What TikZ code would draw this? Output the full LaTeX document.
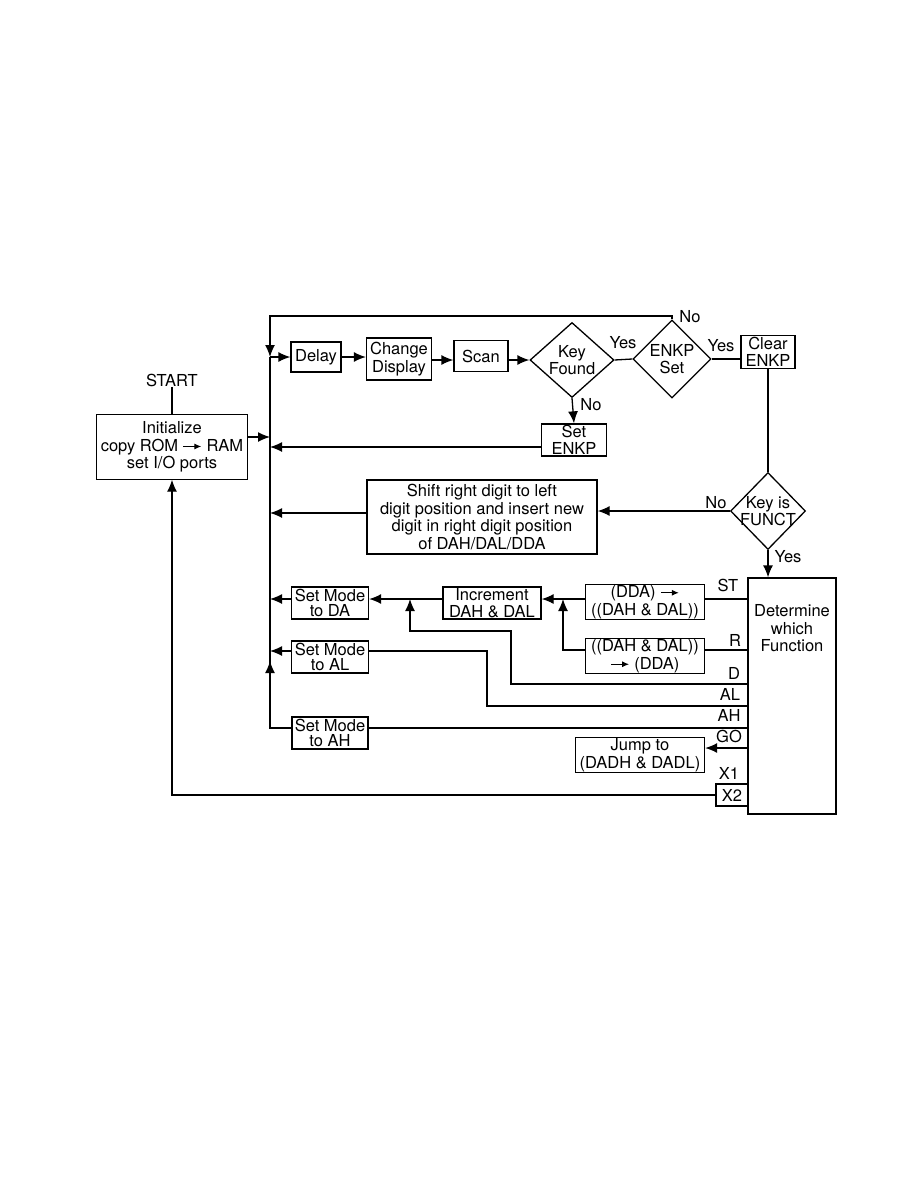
\documentclass[tikz,border=0pt]{standalone}
\usepackage{fontspec}
\setmainfont{TeX Gyre Heros}
\usetikzlibrary{shapes.geometric,arrows.meta}
\newcommand{\flowfont}{\fontsize{16.5}{17.5}\selectfont}
\newcommand{\toarr}{\tikz[baseline=-0.55ex]\draw[line width=1.2pt,-{Latex[length=7pt,width=6pt]}] (0pt,0pt)--(18pt,0pt);}
\begin{document}
\begin{tikzpicture}[x=1pt,y=-1pt,line width=1.3pt]
  \tikzset{bx/.style={draw,rectangle,inner sep=1pt,align=center,font=\flowfont},
    dm/.style={draw,diamond,inner sep=-4pt,align=center,font=\flowfont},
    lb/.style={inner sep=0pt,font=\flowfont},
    ar/.style={-{Latex[length=12pt,width=10pt]}}}
  \useasboundingbox (0,0) rectangle (918,1188);
  % top row
  \node[lb] (start) at (172,380) {START};
  \node[bx,minimum width=151pt,minimum height=65pt] (init) at (172,447) {Initialize\\copy ROM \toarr{} RAM\\set I/O ports};
  \node[bx,minimum width=50pt,minimum height=30pt] (delay) at (316,357) {Delay};
  \node[bx,minimum width=65pt,minimum height=42pt] (chg) at (399,359) {Change\\Display};
  \node[bx,minimum width=54pt,minimum height=31pt] (scan) at (481,356) {Scan};
  \node[dm,minimum width=84pt,minimum height=75pt] (found) at (572,360) {Key\\Found};
  \node[dm,minimum width=78pt,minimum height=78pt] (enkp) at (672,359) {ENKP\\Set};
  \node[bx,minimum width=54pt,minimum height=33pt] (clr) at (768,352) {Clear\\ENKP};
  \node[bx,minimum width=65pt,minimum height=32pt] (setk) at (574,440) {Set\\ENKP};
  \node[dm,minimum width=75pt,minimum height=77pt] (funct) at (768,511) {Key is\\FUNCT};
  \node[bx,minimum width=230pt,minimum height=74pt] (shift) at (482,517) {Shift right digit to left\\digit position and insert new\\digit in right digit position\\of DAH/DAL/DDA};
  % function rows
  \node[bx,minimum width=88pt,minimum height=236pt] (det) at (792,696) {};
  \node[lb,align=center,anchor=north] (dettxt) at (792,604) {Determine\\which\\Function};
  \node[bx,minimum width=119pt,minimum height=32pt] (dda) at (645,602) {(DDA) \toarr\\((DAH \& DAL))};
  \node[bx,minimum width=119pt,minimum height=33pt] (dah) at (645,656) {((DAH \& DAL))\\\toarr{} (DDA)};
  \node[bx,minimum width=98pt,minimum height=31pt] (incr) at (492,603) {Increment\\DAH \& DAL};
  \node[bx,minimum width=77pt,minimum height=32pt,font=\fontsize{16.5}{15.5}\selectfont] (mda) at (330,603) {Set Mode\\to DA};
  \node[bx,minimum width=77pt,minimum height=32pt,font=\fontsize{16.5}{15.5}\selectfont] (mal) at (330,657) {Set Mode\\to AL};
  \node[bx,minimum width=76pt,minimum height=32pt,font=\fontsize{16.5}{15.5}\selectfont] (mah) at (330,733) {Set Mode\\to AH};
  \node[bx,minimum width=129pt,minimum height=32pt] (jump) at (640,755) {Jump to\\(DADH \& DADL)};
  \node[bx,minimum width=32pt,minimum height=22pt] (xtwo) at (732,795) {X2};
  % bus points
  \coordinate (tl) at (270,316);
  \coordinate (bd) at (270,357);
  \coordinate (bi) at (270,437);
  \coordinate (bs) at (270,447);
  \coordinate (bf) at (270,513);
  \coordinate (bm) at (270,599);
  \coordinate (bl) at (270,651);
  \coordinate (bu) at (270,661);
  \coordinate (bh) at (270,728);
  \coordinate (jr) at (563,599);
  \coordinate (jd) at (410,599);
  % labels
  \node[lb] (l1) at (690,317) {No};
  \node[lb] (l2) at (623,343) {Yes};
  \node[lb] (l3) at (721,346) {Yes};
  \node[lb] (l4) at (591,405) {No};
  \node[lb] (l5) at (716,503) {No};
  \node[lb] (l6) at (788,557) {Yes};
  \node[lb] (l7) at (728,585) {ST};
  \node[lb] (l8) at (735,640) {R};
  \node[lb] (l9) at (734,673) {D};
  \node[lb] (l10) at (730,694) {AL};
  \node[lb] (l11) at (729,715) {AH};
  \node[lb] (l12) at (729,736) {GO};
  \node[lb] (l13) at (729,773) {X1};
  % connectors
  \draw (bd) -- (bh);
  \draw[ar] (enkp.north) |- (tl) -- (bd);
  \draw (start) -- (init);
  \draw[ar] (init.east |- bi) -- (bi);
  \draw[ar] (bd) -- (delay);
  \draw[ar] (delay.east |- 0,357) -- (chg.west |- 0,357);
  \draw[ar] (chg.east |- 0,360) -- (scan.west |- 0,360);
  \draw[ar] (scan.east |- 0,360) -- (found.west);
  \draw (found.east) -- (enkp.west);
  \draw (enkp.east) -- (clr.west |- enkp.east);
  \draw[ar] (found.south) -- (setk.north);
  \draw[ar] (setk.west |- bs) -- (bs);
  \draw (clr.south) -- (funct.north);
  \draw[ar] (funct.west) -- (shift.east |- funct.west);
  \draw[ar] (shift.west |- bf) -- (bf);
  \draw[ar] (funct.south) -- (funct.south |- det.north);
  \draw (det.west |- 0,599) -- (dda.east |- 0,599);
  \draw[ar] (dda.west |- 0,599) -- (incr.east |- 0,599);
  \draw (det.west |- 0,650) -- (dah.east |- 0,650);
  \draw[ar] (dah.west |- 0,650) -| (jr);
  \draw[ar] (incr.west |- 0,599) -- (mda.east |- 0,599);
  \draw[ar] (mda.west |- bm) -- (bm);
  \draw[ar] (det.west |- 0,684) -| (511,631) -| (jd);
  \draw (det.west |- 0,706) -| (487,651) -- (mal.east |- bl);
  \draw[ar] (mal.west |- bl) -- (bl);
  \draw (det.west |- 0,728) -- (mah.east |- bh);
  \draw[ar] (mah.west |- bh) -- (bh) -- (bu);
  \draw[ar] (det.west |- 0,748) -- (jump.east |- 0,748);
  \draw[ar] (xtwo.west) -| (init.south);
\end{tikzpicture}
\end{document}
